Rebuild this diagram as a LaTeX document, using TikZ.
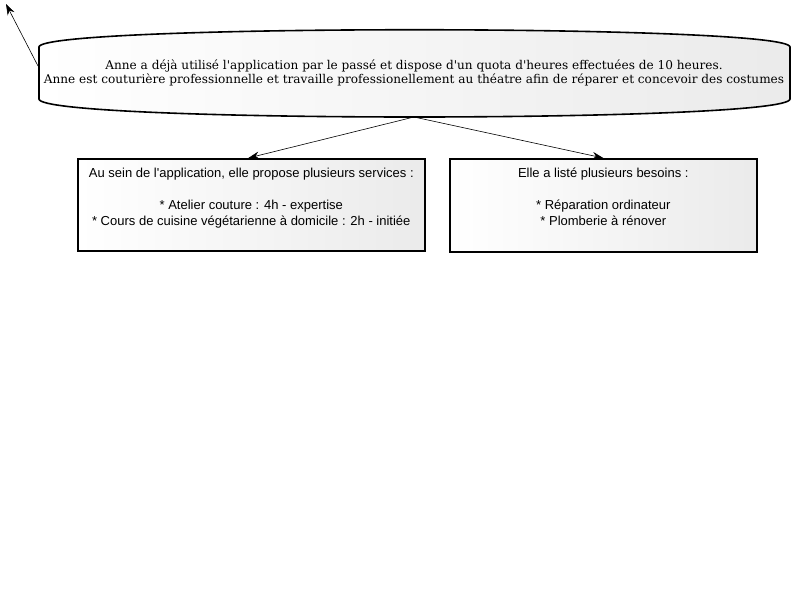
\documentclass[tikz,border=0pt]{standalone}
\usepackage{fontspec}
\setmainfont{DejaVu Serif}[Ligatures=TeXOff]
\newfontfamily\boxfont{Liberation Sans}[Ligatures=TeXOff]
\usetikzlibrary{arrows.meta}
\begin{document}
\begin{tikzpicture}[x=1pt,y=-1pt,
  edge/.style={-{Stealth[length=11pt,width=7.5pt]},line width=0.6pt},
  card/.style={draw,line width=1.6pt,left color=white,right color=black!8,
    shading angle=90,inner sep=0pt,anchor=north west},
  cardtext/.style={anchor=north,align=center,font=\boxfont\fontsize{13}{16}\selectfont,inner sep=0pt},
]
\useasboundingbox (0,0) rectangle (800,600);
% actor-style banner with straight sides and bulging top and bottom
\path[left color=white,right color=black!8,draw,line width=1.6pt]
  (39,47) -- (39,99) .. controls (39,123) and (790,123) .. (790,99)
  -- (790,47) .. controls (790,24) and (39,24) .. (39,47) -- cycle;
\node[align=center,inner sep=0pt,font=\fontsize{12.1}{14}\selectfont] (anne) at (414,73)
  {Anne a déjà utilisé l'application par le passé et dispose d'un quota d'heures effectuées de 10 heures.\\
   Anne est couturière professionnelle et travaille professionellement au théatre afin de réparer et concevoir des costumes};
\coordinate (bannerleft) at (38,66);
\coordinate (bannerbottom) at (414,117);
\coordinate (free) at (6,4);
% service and need cards
\node[card,minimum width=347pt,minimum height=92pt] (services) at (77,158) {};
\node[card,minimum width=307pt,minimum height=93pt] (needs) at (449,158) {};
\node[cardtext] (servicestext) at ([yshift=-10pt]services.north)
  {Au sein de l'application, elle propose plusieurs services :\\[16pt]
   * Atelier couture : 4h - expertise\\
   * Cours de cuisine végétarienne à domicile : 2h - initiée};
\node[cardtext] (needstext) at ([yshift=-10pt]needs.north)
  {Elle a listé plusieurs besoins :\\[16pt]
   * Réparation ordinateur\\
   * Plomberie à rénover};
% connectors
\draw[edge] (bannerleft) -- (free);
\draw[edge] (bannerbottom) -- ([xshift=-3pt]services.north);
\draw[edge] (bannerbottom) -- (needs.north);
\end{tikzpicture}
\end{document}
